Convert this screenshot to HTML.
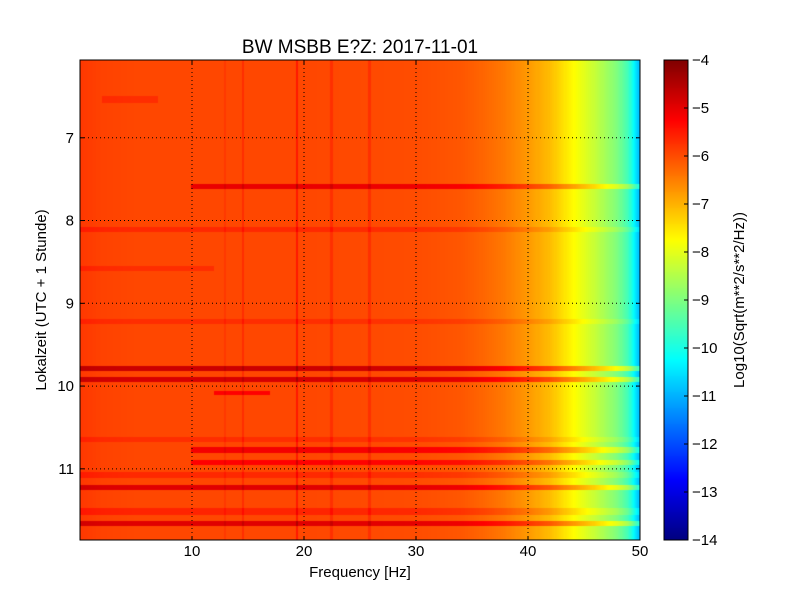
<!DOCTYPE html>
<html><head><meta charset="utf-8"><style>
body{margin:0;background:#fff;width:800px;height:600px;overflow:hidden;font-family:"Liberation Sans","DejaVu Sans",sans-serif}
#wrap{position:relative;width:800px;height:600px}
canvas{position:absolute}
svg{position:absolute;left:0;top:0}
</style></head><body>
<div id="wrap">
<canvas id="hm" width="560" height="480" style="left:80px;top:60px"></canvas>
<canvas id="cb" width="24" height="480" style="left:664px;top:60px"></canvas>
<svg id="ov" width="800" height="600"></svg>
</div>
<script>
// frequency profile (Hz, log10 value)
const profFreq=[0,2,5,10,20,30,34,36,38,40,42,44,46,48,49,49.6,50];
const profVal=[-5.8,-5.9,-5.95,-5.95,-5.95,-6.0,-6.1,-6.25,-6.45,-6.75,-7.1,-7.7,-8.3,-9.0,-9.6,-10.4,-10.9];
// horizontal event rows: time (h), boost, fStart, fEnd
const rowTime=[6.54,7.59,8.11,8.59,9.23,9.79,9.93,10.09,10.65,10.78,10.93,11.08,11.23,11.52,11.67];
const rowBoost=[0.25,0.9,0.3,0.25,0.25,1.2,1.1,0.7,0.25,0.8,0.7,0.3,1.0,0.35,1.0];
const rowFStart=[2,10,0,0,0,0,0,12,0,10,10,0,0,0,0];
const rowFEnd=[7,50,50,12,50,50,50,17,50,50,50,50,50,50,50];
// vertical lines: freq (Hz), boost
const colFreq=[13,14.6,19.4,22.5,25.9];
const colBoost=[0.15,0.25,0.45,0.25,0.25];
const xTicks=[10,20,30,40,50];
const yTicks=[7,8,9,10,11];
const cTicks=[-4,-5,-6,-7,-8,-9,-10,-11,-12,-13,-14];
const X0=80,X1=640,Y0=60,Y1=540,FMAX=50,T0=6.06,T1=11.86,VMIN=-14,VMAX=-4;
const xs=f=>X0+(f/FMAX)*(X1-X0), ys=t=>Y0+(t-T0)/(T1-T0)*(Y1-Y0);
function jet(v){let x=(v-VMIN)/(VMAX-VMIN);x=Math.max(0,Math.min(1,x));
 const c=a=>Math.max(0,Math.min(1,a));
 const r=c(Math.min(4*x-1.5,-4*x+4.5)),g=c(Math.min(4*x-0.5,-4*x+3.5)),b=c(Math.min(4*x+0.5,-4*x+2.5));
 return `rgb(${r*255|0},${g*255|0},${b*255|0})`;}
function prof(f){for(let i=1;i<profFreq.length;i++)if(f<=profFreq[i]){const a=(f-profFreq[i-1])/(profFreq[i]-profFreq[i-1]);return profVal[i-1]+a*(profVal[i]-profVal[i-1]);}return profVal[profVal.length-1];}
const hm=document.getElementById('hm').getContext('2d');
const df=0.1,dt=0.02;
for(let t=T0;t<T1;t+=dt){for(let f=0;f<FMAX;f+=df){const fc=f+df/2,tc=t+dt/2;let v=prof(fc);
 for(let i=0;i<rowTime.length;i++){if(Math.abs(tc-rowTime[i])<0.035&&fc>=rowFStart[i]&&fc<=rowFEnd[i])v+=rowBoost[i];}
 for(let j=0;j<colFreq.length;j++){if(Math.abs(fc-colFreq[j])<0.12)v+=colBoost[j];}
 hm.fillStyle=jet(v);const x=xs(f)-X0,y=ys(t)-Y0;hm.fillRect(Math.floor(x),Math.floor(y),Math.ceil(xs(f+df)-xs(f))+1,Math.ceil(ys(t+dt)-ys(t))+1);}}
const cb=document.getElementById('cb').getContext('2d');
for(let y=0;y<480;y++){cb.fillStyle=jet(VMAX-(y+0.5)/480*(VMAX-VMIN));cb.fillRect(0,y,24,1);}
const ov=document.getElementById('ov');const NS='http://www.w3.org/2000/svg';
function el(tag,at,txt){const e=document.createElementNS(NS,tag);for(const k in at)e.setAttribute(k,at[k]);if(txt!==undefined)e.textContent=txt;ov.appendChild(e);return e;}
let e;
xTicks.forEach(v=>{const x=xs(v);
 if(v<50){e=el('line',{x1:x,x2:x,y1:Y0,y2:Y1,stroke:'#000','stroke-dasharray':'1,3'});}
 el('line',{x1:x,x2:x,y1:Y1,y2:Y1-4,stroke:'#000'});el('line',{x1:x,x2:x,y1:Y0,y2:Y0+4,stroke:'#000'});
 e=el('text',{x:x,y:556,'text-anchor':'middle','font-size':'15'},String(v));});
yTicks.forEach(v=>{const y=ys(v);
 e=el('line',{x1:X0,x2:X1,y1:y,y2:y,stroke:'#000','stroke-dasharray':'1,3'});
 el('line',{x1:X0,x2:X0+4,y1:y,y2:y,stroke:'#000'});el('line',{x1:X1,x2:X1-4,y1:y,y2:y,stroke:'#000'});
 e=el('text',{x:74,y:y+5,'text-anchor':'end','font-size':'15'},String(v));});
e=el('rect',{x:X0,y:Y0,width:X1-X0,height:Y1-Y0,fill:'none',stroke:'#000'});
e=el('rect',{x:664,y:60,width:24,height:480,fill:'none',stroke:'#000'});
cTicks.forEach(v=>{const y=60+(VMAX-v)/(VMAX-VMIN)*480;
 el('line',{x1:684,x2:688,y1:y,y2:y,stroke:'#000'});
 e=el('text',{x:692,y:y+5,'font-size':'15'},String(v).replace('-','\u2212'));});
e=el('text',{x:360,y:53,'text-anchor':'middle','font-size':'19'},'BW MSBB E?Z: 2017-11-01');
e=el('text',{x:360,y:577,'text-anchor':'middle','font-size':'15'},'Frequency [Hz]');
e=el('text',{x:46,y:300,'text-anchor':'middle','font-size':'15',transform:'rotate(-90 46 300)'},'Lokalzeit (UTC + 1 Stunde)');
e=el('text',{x:744,y:300,'text-anchor':'middle','font-size':'15',transform:'rotate(-90 744 300)'},'Log10(Sqrt(m**2/s**2/Hz))');
</script></body></html>
